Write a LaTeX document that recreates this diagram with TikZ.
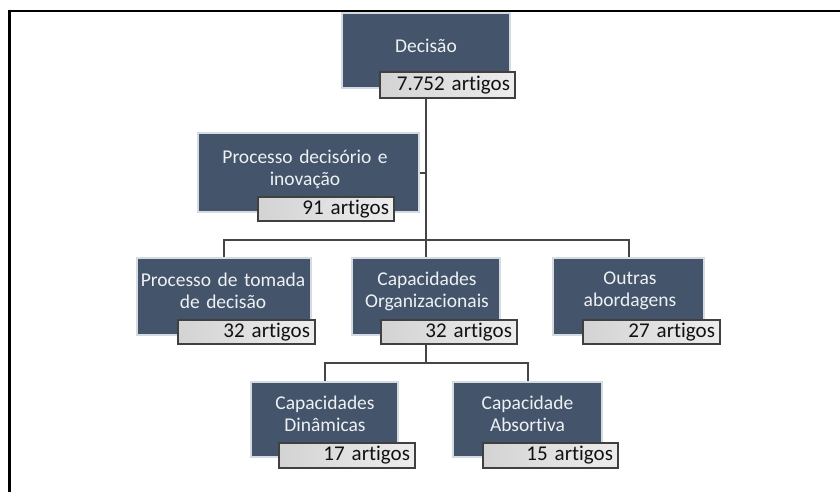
\documentclass[tikz,border=0pt]{standalone}
\usepackage{fontspec}
\setmainfont{Carlito}[Ligatures={NoCommon}]
\definecolor{boxfill}{HTML}{44546A}
\definecolor{boxedge}{HTML}{D5DBE2}
\definecolor{boxtxt}{HTML}{EEF1F4}
\definecolor{lblL}{HTML}{D3D3D3}
\definecolor{lblR}{HTML}{EDEDED}
\definecolor{lbledge}{HTML}{404040}
\definecolor{lbltxt}{HTML}{111111}
\definecolor{conncol}{HTML}{454545}
\pgfdeclarelayer{bg}
\pgfsetlayers{bg,main}
\tikzset{
  darkbox/.style={rectangle, fill=boxfill, draw=boxedge, line width=1.2pt, inner sep=0pt},
  boxtext/.style={text=boxtxt, font=\fontsize{19.5}{22}\selectfont, align=center, inner sep=0pt, text width=200pt},
  lbl/.style={rectangle, left color=lblL, right color=lblR, draw=lbledge, line width=1.5pt,
    inner xsep=5pt, inner ysep=0pt, text=lbltxt, font=\fontsize{21}{24}\selectfont, align=right},
  conn/.style={draw=conncol, line width=2pt},
  frameline/.style={draw=black, line cap=butt}
}
\begin{document}
\begin{tikzpicture}[x=1pt,y=-1pt]
\useasboundingbox (0,0) rectangle (840,492);
% frame
\draw[frameline, line width=2.5pt] (8,11) -- (113,11);
\draw[frameline, line width=1.2pt] (113,11) -- (742,11);
\draw[frameline, line width=2.5pt] (742,11) -- (840,11);
\draw[frameline, line width=2.5pt] (9.5,9.75) -- (9.5,492);

% Decisão
\node[darkbox, minimum width=168pt, minimum height=75pt] (dec) at (426,50.5) {};
\node[boxtext] (dect) at (426,46) {Decisão};
\node[lbl, minimum width=135pt, minimum height=26pt, text width=125pt] (decl) at (447.5,85) {7.752 artigos};

% Processo decisório e inovação
\node[darkbox, minimum width=221pt, minimum height=79pt] (pdi) at (308.5,172.5) {};
\node[boxtext] (pdit) at (305,169) {Processo decisório e\\inovação};
\node[lbl, minimum width=136pt, minimum height=24pt, text width=126pt] (pdil) at (326,209) {91 artigos};

% Level 2
\node[darkbox, minimum width=174pt, minimum height=77pt] (pa) at (224,296.5) {};
\node[boxtext] (pat) at (223,291) {Processo de tomada\\de decisão};
\node[lbl, minimum width=137pt, minimum height=24pt, text width=127pt] (pal) at (246.5,332) {32 artigos};

\node[darkbox, minimum width=148pt, minimum height=77pt] (pb) at (426,296.5) {};
\node[boxtext] (pbt) at (427,291) {Capacidades\\Organizacionais};
\node[lbl, minimum width=136pt, minimum height=24pt, text width=126pt] (pbl) at (449,332) {32 artigos};

\node[darkbox, minimum width=151pt, minimum height=77pt] (pc) at (628.5,296.5) {};
\node[boxtext] (pct) at (630,291) {Outras\\abordagens};
\node[lbl, minimum width=137pt, minimum height=24pt, text width=127pt] (pcl) at (651.5,332) {27 artigos};

% Level 3
\node[darkbox, minimum width=147pt, minimum height=75pt] (pd) at (324.5,419.5) {};
\node[boxtext] (pdt) at (325,414) {Capacidades\\Dinâmicas};
\node[lbl, minimum width=136pt, minimum height=25pt, text width=126pt] (pdl) at (347,455.5) {17 artigos};

\node[darkbox, minimum width=149pt, minimum height=75pt] (pe) at (527.5,419.5) {};
\node[boxtext] (pet) at (527.5,414) {Capacidade\\Absortiva};
\node[lbl, minimum width=135pt, minimum height=25pt, text width=125pt] (pel) at (550.5,455.5) {15 artigos};

% connectors
\coordinate (bus1) at (426,240);
\coordinate (bus2) at (426,363);
\begin{pgfonlayer}{bg}
\draw[conn] (dec.south) -- (bus1);
\draw[conn] (pdi.east) -- (pdi.east -| bus1);
\draw[conn] (pa.north) |- (bus1) -| (pc.north);
\draw[conn] (bus1) -- (pb.north);
\draw[conn] (pb.south) -- (bus2);
\draw[conn] (pd.north) |- (bus2) -| (pe.north);
\end{pgfonlayer}
\end{tikzpicture}
\end{document}
